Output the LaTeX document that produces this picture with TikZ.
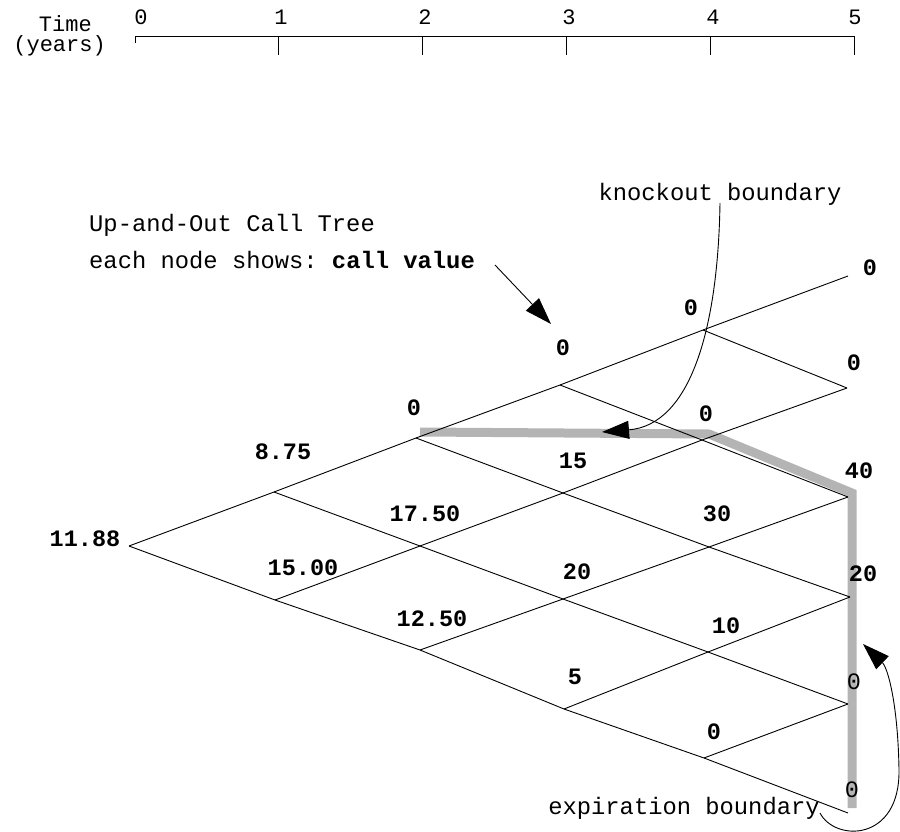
\documentclass[tikz,border=0pt]{standalone}
\usepackage{fontspec}
\setmonofont{Liberation Mono}
\usetikzlibrary{arrows.meta}
\definecolor{boundgray}{RGB}{180,180,180}

\begin{document}
\begin{tikzpicture}[x=1pt,y=-1pt]

\tikzset{
  TreeEdge/.style = {line width=0.9pt},
  ValueLabel/.style = {inner sep=0pt, font=\fontsize{23.5}{26}\selectfont\ttfamily\bfseries},
  PlainLabel/.style = {inner sep=0pt, font=\fontsize{23.5}{26}\selectfont\ttfamily},
  NoteText/.style = {inner sep=0pt, anchor=west, font=\fontsize{23.8}{26}\selectfont\ttfamily},
  AxisText/.style = {inner sep=0pt, font=\fontsize{22}{26}\selectfont\ttfamily},
  Boundary/.style = {line width=9pt, boundgray},
  BigArrow/.style = {line width=0.9pt, -{Triangle[length=27pt,width=18pt]}} }
  \useasboundingbox (0,0) rectangle (900,832);

  % time axis
  \coordinate (a0) at (135,36);
  \coordinate (a1) at (278,36);
  \coordinate (a2) at (422,36);
  \coordinate (a3) at (566,36);
  \coordinate (a4) at (710,36);
  \coordinate (a5) at (854,36);
  \draw[TreeEdge] (a0) -- (a5);
  \draw[TreeEdge] (a0) -- ++(0,7);
  \draw[TreeEdge] (a1) -- ++(0,19);
  \draw[TreeEdge] (a2) -- ++(0,19);
  \draw[TreeEdge] (a3) -- ++(0,19);
  \draw[TreeEdge] (a4) -- ++(0,19);
  \draw[TreeEdge] (a5) -- ++(0,19);
  \node[AxisText] (d0) at (141,17) {0};
  \node[AxisText] (d1) at (281,17) {1};
  \node[AxisText] (d2) at (425,17) {2};
  \node[AxisText] (d3) at (569,17) {3};
  \node[AxisText] (d4) at (713,17) {4};
  \node[AxisText] (d5) at (855,17) {5};
  \node[AxisText, anchor=east] (time) at (92,24) {Time};
  \node[AxisText, anchor=east] (years) at (106,46) {(years)};

  % knockout and expiration boundary
  \coordinate (kb1) at (420,432);
  \coordinate (kb2) at (709,434);
  \coordinate (kb3) at (852,493);
  \coordinate (kb4) at (852,808);
  \draw[Boundary] (kb1) -- (kb2) -- (kb3) -- (kb4);

  % lattice points
  \coordinate (v00) at (129,546);
  \coordinate (v10) at (274,492);
  \coordinate (v11) at (275,600);
  \coordinate (v20) at (416,438);
  \coordinate (v21) at (420,546);
  \coordinate (v22) at (420,650);
  \coordinate (v30) at (560,385);
  \coordinate (v31) at (563,493);
  \coordinate (v32) at (563,599);
  \coordinate (v33) at (564,709);
  \coordinate (v40) at (703,330);
  \coordinate (v41) at (702,440);
  \coordinate (v42) at (709,547);
  \coordinate (v43) at (708,652);
  \coordinate (v44) at (704,758);
  \coordinate (v50) at (848,276);
  \coordinate (v51) at (847,388);
  \coordinate (v52) at (848,497);
  \coordinate (v53) at (850,597);
  \coordinate (v54) at (848,704);
  \coordinate (v55) at (848,813);

  % up moves
  \draw[TreeEdge] (v00) -- (v10) -- (v20) -- (v30) -- (v40) -- (v50);
  \draw[TreeEdge] (v11) -- (v21) -- (v31) -- (v41) -- (v51);
  \draw[TreeEdge] (v22) -- (v32) -- (v42) -- (v52);
  \draw[TreeEdge] (v33) -- (v43) -- (v53);
  \draw[TreeEdge] (v44) -- (v54);
  % down moves
  \draw[TreeEdge] (v00) -- (v11) -- (v22) -- (v33) -- (v44) -- (v55);
  \draw[TreeEdge] (v10) -- (v21) -- (v32) -- (v43) -- (v54);
  \draw[TreeEdge] (v20) -- (v31) -- (v42) -- (v53);
  \draw[TreeEdge] (v30) -- (v41) -- (v52);
  \draw[TreeEdge] (v40) -- (v51);

  % call values
  \node[ValueLabel] (c00) at (85,539) {11.88};
  \node[ValueLabel] (c10) at (283,452) {8.75};
  \node[ValueLabel] (c11) at (303,568) {15.00};
  \node[ValueLabel] (c20) at (414,408) {0};
  \node[ValueLabel] (c21) at (425,514) {17.50};
  \node[ValueLabel] (c22) at (432,619) {12.50};
  \node[ValueLabel] (c30) at (563,348) {0};
  \node[ValueLabel] (c31) at (573,461) {15};
  \node[ValueLabel] (c32) at (577,572) {20};
  \node[ValueLabel] (c33) at (575,677) {5};
  \node[ValueLabel] (c40) at (691,308) {0};
  \node[ValueLabel] (c41) at (706,414) {0};
  \node[ValueLabel] (c42) at (717,514) {30};
  \node[ValueLabel] (c43) at (726,626) {10};
  \node[ValueLabel] (c44) at (714,732) {0};
  \node[ValueLabel] (c50) at (870,268) {0};
  \node[ValueLabel] (c51) at (854,363) {0};
  \node[ValueLabel] (c52) at (859,471) {40};
  \node[ValueLabel] (c53) at (863,574) {20};
  \node[PlainLabel] (c54) at (854,682) {0};
  \node[PlainLabel] (c55) at (852,790) {0};

  % notes
  \node[NoteText] (title) at (89,225) {Up-and-Out Call Tree};
  \node[NoteText] (legend) at (89,260) {each node shows: \textbf{call value}};
  \coordinate (legtip) at (551,324);
  \draw[BigArrow] (495,265) -- (legtip);

  \node[NoteText, anchor=center] (knock) at (720,194) {knockout boundary};
  \coordinate (knocktip) at (602,432);
  \draw[BigArrow] (720,203) .. controls (718,330) and (690,425) .. (knocktip);

  \node[NoteText, anchor=center] (expir) at (684,808) {expiration boundary};
  \coordinate (expirtip) at (863,644);
  \draw[BigArrow] (820,813) .. controls (835,842) and (900,842) .. (899,770)
    .. controls (898,705) and (888,668) .. (expirtip);

\end{tikzpicture}
\end{document}
